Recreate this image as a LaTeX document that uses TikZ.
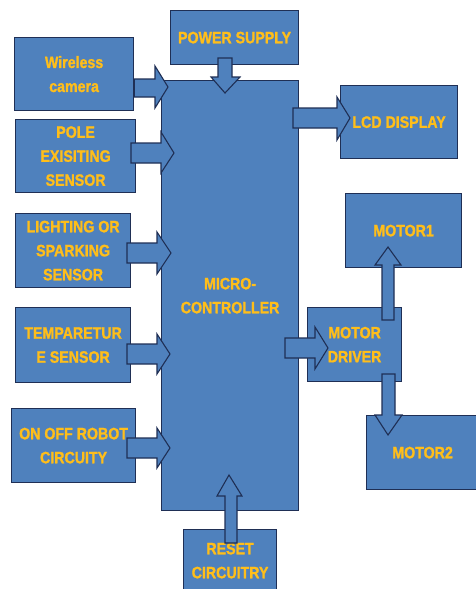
\documentclass[tikz,border=0pt]{standalone}
\usepackage{fontspec}
\setmainfont{Liberation Sans}[BoldFont={Liberation Sans Bold}, BoldFeatures={FakeBold=1.3}, FakeStretch=0.86]
\definecolor{boxblue}{HTML}{4F81BD}
\definecolor{navy}{HTML}{1F2F55}
\definecolor{lblyellow}{HTML}{FFBE1A}
\tikzset{
  box/.style={draw=navy, line width=1.2pt, fill=boxblue, anchor=north west,
    inner sep=0pt, align=center, text=lblyellow,
    font=\bfseries\fontsize{16.5}{24}\selectfont},
  arr/.style={draw=navy, line width=1.1pt, fill=boxblue, line join=miter}
}
\begin{document}
\begin{tikzpicture}[x=1pt,y=-1pt]
\useasboundingbox (0,0) rectangle (476,589);
\clip (0,0) rectangle (476,589);
\fill[white] (0,0) rectangle (476,589);
% boxes
\node[box, minimum width=119pt, minimum height=73pt] (wc) at (14,37) {Wireless\\camera};
\node[box, minimum width=120pt, minimum height=73pt] (pole) at (15,119) {POLE\\EXISITING\\SENSOR};
\node[box, minimum width=128pt, minimum height=54pt] (ps) at (170,10) {POWER SUPPLY};
\node[box, minimum width=137pt, minimum height=430pt] (mc) at (161,80) {MICRO-\\CONTROLLER};
\node[box, minimum width=117pt, minimum height=73pt] (lcd) at (340,85) {LCD DISPLAY};
\node[box, minimum width=116pt, minimum height=74pt] (m1) at (345,193) {MOTOR1};
\node[box, minimum width=115pt, minimum height=74pt] (light) at (15,213) {LIGHTING OR\\SPARKING\\SENSOR};
\node[box, minimum width=115pt, minimum height=75pt] (temp) at (15,307) {TEMPARETUR\\E SENSOR};
\node[box, minimum width=94pt, minimum height=74pt] (md) at (307,307) {MOTOR\\DRIVER};
\node[box, minimum width=124pt, minimum height=74pt] (onoff) at (11,408) {ON OFF ROBOT\\CIRCUITY};
\node[box, minimum width=112pt, minimum height=74pt] (m2) at (366,415) {MOTOR2};
\node[box, minimum width=93pt, minimum height=62pt] (reset) at (183,529) {RESET\\CIRCUITRY};
% block arrows
% wireless camera -> micro-controller
\draw[arr] (wc.east |- 0,79) -- (155,79) -- (155,66) -- (168,87) -- (155,108) -- (155,97) -- (wc.east |- 0,97) -- cycle;
% pole -> micro-controller
\draw[arr] (131,143) -- (161,143) -- (161,132) -- (174,153) -- (161,173) -- (161,163) -- (131,163) -- cycle;
% power supply -> micro-controller
\draw[arr] (218,58) -- (232,58) -- (232,77) -- (240,77) -- (225,93) -- (211,77) -- (218,77) -- cycle;
% micro-controller -> LCD
\draw[arr] (293,108) -- (337,108) -- (337,97) -- (350,118) -- (337,140) -- (337,128) -- (293,128) -- cycle;
% lighting -> micro-controller
\draw[arr] (127,243) -- (157,243) -- (157,232) -- (171,253) -- (157,274) -- (157,263) -- (127,263) -- cycle;
% temperature -> micro-controller
\draw[arr] (127,344) -- (157,344) -- (157,334) -- (170,354) -- (157,374) -- (157,364) -- (127,364) -- cycle;
% on off -> micro-controller
\draw[arr] (127,438) -- (157,438) -- (157,428) -- (170,448) -- (157,468) -- (157,458) -- (127,458) -- cycle;
% micro-controller -> motor driver
\draw[arr] (285,338) -- (315,338) -- (315,327) -- (328,348) -- (315,369) -- (315,358) -- (285,358) -- cycle;
% motor driver -> motor1
\draw[arr] (382,320) -- (382,265) -- (375,265) -- (388,247) -- (401,265) -- (394,265) -- (394,320) -- cycle;
% motor driver -> motor2
\draw[arr] (382,374) -- (382,415) -- (375,415) -- (388,435) -- (402,415) -- (395,415) -- (395,374) -- cycle;
% reset -> micro-controller
\draw[arr] (225,543) -- (225,496) -- (217,496) -- (229,475) -- (242,496) -- (237,496) -- (237,543) -- cycle;
\end{tikzpicture}
\end{document}
